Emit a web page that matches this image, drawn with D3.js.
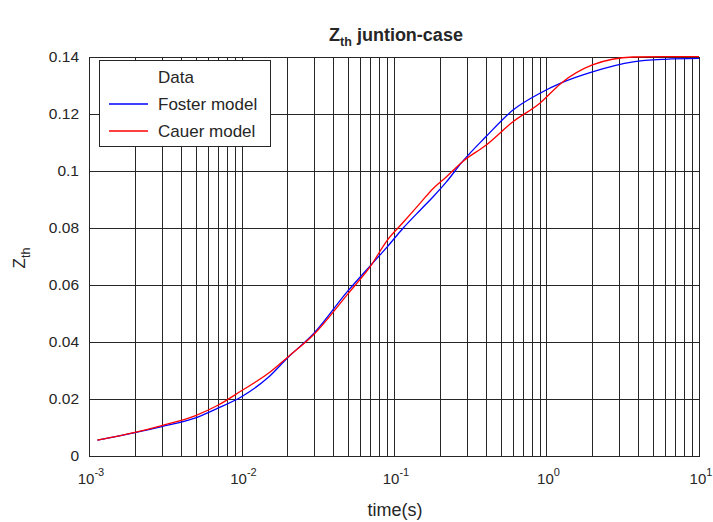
<!DOCTYPE html>
<html>
<head>
<meta charset="utf-8">
<script src="https://cdn.jsdelivr.net/npm/d3@7"></script>
<style>
  body { margin: 0; background: #fff; }
  text { font-family: "Liberation Sans", Arial, sans-serif; fill: #262626; }
</style>
</head>
<body>
<svg id="chart" width="713" height="522"></svg>
<script>
// values
var timeS  = [0.001135, 0.002, 0.003, 0.005, 0.007, 0.01, 0.015, 0.02, 0.03, 0.05, 0.07, 0.09, 0.115, 0.15, 0.18, 0.22, 0.28, 0.4, 0.6, 0.9, 1.26, 2, 3.7, 6, 10];
var foster = [0.0056, 0.0082, 0.0103, 0.0134, 0.0168, 0.0208, 0.0276, 0.0344, 0.0432, 0.0580, 0.0668, 0.0733, 0.0800, 0.0865, 0.0909, 0.0961, 0.1032, 0.1120, 0.1213, 0.1272, 0.1310, 0.1348, 0.1383, 0.1392, 0.1395];
var cauer  = [0.0056, 0.0083, 0.0107, 0.0142, 0.0178, 0.0229, 0.0290, 0.0346, 0.0428, 0.0570, 0.0665, 0.0756, 0.0820, 0.0890, 0.0938, 0.0979, 0.1032, 0.1090, 0.1172, 0.1237, 0.1310, 0.1372, 0.1400, 0.1401, 0.1401];
var yTicks = [0, 0.02, 0.04, 0.06, 0.08, 0.1, 0.12, 0.14];
var xDecades = [1e-3, 1e-2, 1e-1, 1e0, 1e1];
var xExponents = ["-3", "-2", "-1", "0", "1"];
var legendNames = ["Data", "Foster model", "Cauer model"];
var legendColors = [null, "#0000ff", "#ff0000"];

var svg = d3.select("#chart");
var pL = 89, pR = 699, pT = 57, pB = 456;

var x = d3.scaleLog().domain([1e-3, 10]).range([pL, pR]);
var y = d3.scaleLinear().domain([0, 0.14]).range([pB, pT]);

// grid, x has minor lines at every 1..9 of each decade
var grid = svg.append("g").attr("stroke", "#262626").attr("stroke-width", 1);
grid.selectAll("line.gx").data(x.ticks()).enter().append("line")
  .attr("class", "gx")
  .attr("x1", function(d) { return Math.round(x(d)) + 0.5; })
  .attr("x2", function(d) { return Math.round(x(d)) + 0.5; })
  .attr("y1", pT).attr("y2", pB);
grid.selectAll("line.gy").data(yTicks).enter().append("line")
  .attr("class", "gy")
  .attr("y1", function(d) { return Math.round(y(d)) + 0.5; })
  .attr("y2", function(d) { return Math.round(y(d)) + 0.5; })
  .attr("x1", pL).attr("x2", pR);

// box
svg.append("rect")
  .attr("x", pL + 0.5).attr("y", pT + 0.5)
  .attr("width", pR - pL).attr("height", pB - pT)
  .attr("fill", "none").attr("stroke", "#262626");

// y axis labels
var yAxis = d3.axisLeft(y).tickValues(yTicks).tickSize(0).tickPadding(10)
  .tickFormat(function(d) { return String(+d.toFixed(2)); });
var ya = svg.append("g").attr("transform", "translate(" + pL + ",0)").call(yAxis);
ya.select(".domain").remove();
ya.selectAll("text").attr("font-size", 15.5).attr("font-family", "Liberation Sans, Arial, sans-serif").attr("fill", "#262626");

// x axis labels as 10 with superscript
var xl = svg.append("g").selectAll("text").data(xDecades).enter().append("text")
  .attr("x", function(d) { return x(d) + 2; })
  .attr("y", 484)
  .attr("text-anchor", "middle")
  .attr("font-size", 15);
xl.append("tspan").text("10");
xl.append("tspan").attr("dy", -8).attr("font-size", 11)
  .text(function(d, i) { return xExponents[i]; });

// curves
var line = d3.line()
  .x(function(d) { return x(d[0]); })
  .y(function(d) { return y(d[1]); })
  .curve(d3.curveMonotoneX);

svg.append("path")
  .datum(d3.zip(timeS, foster))
  .attr("d", line).attr("fill", "none")
  .attr("stroke", "#0000ff").attr("stroke-width", 1.3);
svg.append("path")
  .datum(d3.zip(timeS, cauer))
  .attr("d", line).attr("fill", "none")
  .attr("stroke", "#ff0000").attr("stroke-width", 1.3);

// legend
var lg = svg.append("g").attr("transform", "translate(99,60)");
lg.append("rect").attr("x", 0.5).attr("y", 0.5).attr("width", 171).attr("height", 86)
  .attr("fill", "#fff").attr("stroke", "#262626");
var items = lg.selectAll("g.item").data(legendNames).enter().append("g")
  .attr("class", "item")
  .attr("transform", function(d, i) { return "translate(0," + (17 + i * 27) + ")"; });
items.append("line")
  .attr("x1", 10).attr("x2", 49).attr("y1", 0).attr("y2", 0)
  .attr("stroke", function(d, i) { return legendColors[i] || "none"; })
  .attr("stroke-width", 1.3);
items.append("text")
  .attr("x", 59).attr("y", 6)
  .attr("font-size", 17)
  .text(function(d) { return d; });

// title
var title = svg.append("text").attr("x", 396).attr("y", 41)
  .attr("text-anchor", "middle").attr("font-size", 18).attr("font-weight", "bold");
title.append("tspan").text("Z");
title.append("tspan").attr("dy", 5).attr("font-size", 12.5).text("th");
title.append("tspan").attr("dy", -5).text(" juntion-case");

// axis titles
svg.append("text").attr("x", 395).attr("y", 516)
  .attr("text-anchor", "middle").attr("font-size", 18).text("time(s)");
var yl = svg.append("text")
  .attr("transform", "translate(25,258) rotate(-90)")
  .attr("text-anchor", "middle").attr("font-size", 17);
yl.append("tspan").text("Z");
yl.append("tspan").attr("dy", 5).attr("font-size", 12.5).text("th");
</script>
</body>
</html>
